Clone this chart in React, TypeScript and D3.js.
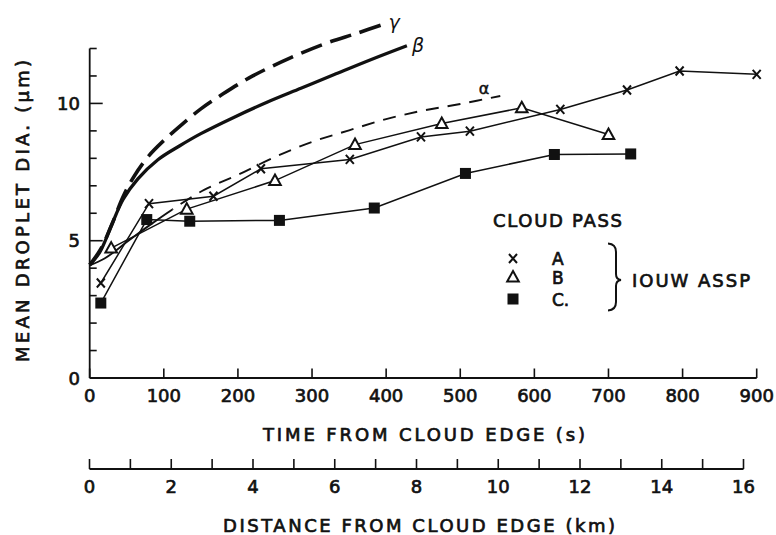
import React from "react";
import * as d3 from "d3";

// Cloud pass A (x markers)
const timeA = [15, 80, 167, 231, 351, 447, 513, 635, 725, 796, 900];
const diaA = [3.46, 6.35, 6.62, 7.62, 7.96, 8.78, 8.99, 9.78, 10.49, 11.18, 11.06];
// Cloud pass B (open triangles)
const timeB = [29, 131, 250, 358, 475, 583, 700];
const diaB = [4.73, 6.15, 7.19, 8.5, 9.27, 9.84, 8.87];
// Cloud pass C (filled squares)
const timeC = [15, 77, 135, 256, 384, 507, 627, 730];
const diaC = [2.73, 5.77, 5.71, 5.74, 6.19, 7.45, 8.14, 8.16];

// Model curves
const timeAlpha = [0, 20, 50, 80, 115, 155, 200, 250, 300, 350, 400, 450, 500, 554];
const diaAlpha = [4.1, 4.35, 4.95, 5.55, 6.2, 6.86, 7.4, 8.05, 8.6, 9.02, 9.43, 9.74, 9.98, 10.27];
const timeBeta = [0, 14, 30, 45, 65, 92, 121, 150, 195, 240, 285, 330, 380, 428];
const diaBeta = [4.12, 4.6, 5.6, 6.5, 7.25, 7.95, 8.45, 8.9, 9.5, 10.05, 10.55, 11.05, 11.6, 12.1];
const timeGamma = [0, 15, 30, 45, 60, 80, 100, 125, 150, 180, 220, 270, 320, 360, 398];
const diaGamma = [4.12, 4.7, 5.6, 6.6, 7.35, 8.1, 8.65, 9.25, 9.8, 10.35, 11.0, 11.65, 12.2, 12.55, 12.9];

const timeTicks = [0, 100, 200, 300, 400, 500, 600, 700, 800, 900];
const diaTicks = d3.range(0, 13, 1);
const diaLabels = [0, 5, 10];
const kmTicks = d3.range(0, 17, 1);
const kmLabels = [0, 2, 4, 6, 8, 10, 12, 14, 16];

const FONT = "'DejaVu Sans', sans-serif";
const INK = "#111";

const x = d3.scaleLinear().domain([0, 900]).range([89.7, 756.7]);
const y = d3.scaleLinear().domain([0, 12]).range([378, 48.5]);
const km = d3.scaleLinear().domain([0, 16]).range([89.5, 743.5]);

const zip = (a: number[], b: number[]) => a.map((v, i) => [v, b[i]] as [number, number]);

const smooth = d3
  .line<[number, number]>()
  .x((d) => x(d[0]))
  .y((d) => y(d[1]))
  .curve(d3.curveCatmullRom.alpha(0.5));
const straight = d3
  .line<[number, number]>()
  .x((d) => x(d[0]))
  .y((d) => y(d[1]));

const XMark = ({ cx, cy }: { cx: number; cy: number }) => (
  <path
    d={`M${cx - 4},${cy - 4.5}L${cx + 4},${cy + 4.5}M${cx + 4},${cy - 4.5}L${cx - 4},${cy + 4.5}`}
    stroke={INK}
    strokeWidth={2}
    fill="none"
  />
);
const TriMark = ({ cx, cy }: { cx: number; cy: number }) => (
  <path
    d={`M${cx},${cy - 6}L${cx + 5.8},${cy + 4.5}L${cx - 5.8},${cy + 4.5}Z`}
    stroke={INK}
    strokeWidth={2}
    fill="#fff"
    strokeLinejoin="miter"
  />
);
const SqMark = ({ cx, cy }: { cx: number; cy: number }) => (
  <rect x={cx - 5.5} y={cy - 5.5} width={11} height={11} fill={INK} />
);

export default function App() {
  const A = zip(timeA, diaA);
  const B = zip(timeB, diaB);
  const C = zip(timeC, diaC);
  const alpha = zip(timeAlpha, diaAlpha);
  const beta = zip(timeBeta, diaBeta);
  const gamma = zip(timeGamma, diaGamma);

  const textProps = {
    fontFamily: FONT,
    fontSize: 18,
    fill: INK,
    stroke: INK,
    strokeWidth: 0.7,
  };

  return (
    <svg
      width={776}
      height={535}
      viewBox="0 0 776 535"
      style={{ position: "absolute", left: 0, top: 0, background: "#fff" }}
    >
      <defs>
        <clipPath id="alphaHead">
          <rect x={0} y={0} width={x(112)} height={535} />
        </clipPath>
        <clipPath id="alphaTail">
          <rect x={x(112)} y={0} width={776} height={535} />
        </clipPath>
      </defs>

      {/* y axis */}
      <line x1={x(0)} x2={x(0)} y1={y(12)} y2={y(0)} stroke={INK} strokeWidth={1.8} />
      {diaTicks.map((t) => (
        <line
          key={"yt" + t}
          x1={x(0)}
          x2={x(0) + (t % 5 === 0 ? 13 : 7)}
          y1={y(t)}
          y2={y(t)}
          stroke={INK}
          strokeWidth={1.6}
        />
      ))}
      {diaLabels.map((t) => (
        <text key={"yl" + t} x={80} y={y(t) + 6.5} textAnchor="end" {...textProps}>
          {t}
        </text>
      ))}

      {/* time axis */}
      <line x1={x(0)} x2={x(900)} y1={y(0)} y2={y(0)} stroke={INK} strokeWidth={1.8} />
      {timeTicks.map((t) => (
        <line key={"xt" + t} x1={x(t)} x2={x(t)} y1={y(0)} y2={y(0) - 9.5} stroke={INK} strokeWidth={1.6} />
      ))}
      {timeTicks.map((t) => (
        <text key={"xl" + t} x={x(t)} y={401.5} textAnchor="middle" {...textProps}>
          {t}
        </text>
      ))}
      <text x={263} y={440.5} textLength={322} lengthAdjust="spacing" {...textProps}>
        TIME FROM CLOUD EDGE (s)
      </text>

      {/* distance axis */}
      <line x1={km(0)} x2={km(16)} y1={469} y2={469} stroke={INK} strokeWidth={1.8} />
      {kmTicks.map((t) => (
        <line key={"kt" + t} x1={km(t)} x2={km(t)} y1={469} y2={459} stroke={INK} strokeWidth={1.6} />
      ))}
      {kmLabels.map((t) => (
        <text key={"kl" + t} x={km(t)} y={493} textAnchor="middle" {...textProps}>
          {t}
        </text>
      ))}
      <text x={223} y={531.5} textLength={392} lengthAdjust="spacing" {...textProps}>
        DISTANCE FROM CLOUD EDGE (km)
      </text>

      {/* y title */}
      <text
        transform="translate(29,362) rotate(-90)"
        x={0}
        y={0}
        textLength={302}
        lengthAdjust="spacing"
        {...textProps}
      >
        MEAN DROPLET DIA. (μm)
      </text>

      {/* model curves */}
      <path d={smooth(gamma) || ""} fill="none" stroke={INK} strokeWidth={3.6} strokeDasharray="22 9" />
      <path d={smooth(beta) || ""} fill="none" stroke={INK} strokeWidth={3.3} />
      <path d={smooth(alpha) || ""} fill="none" stroke={INK} strokeWidth={1.9} clipPath="url(#alphaHead)" />
      <path
        d={smooth(alpha) || ""}
        fill="none"
        stroke={INK}
        strokeWidth={1.9}
        strokeDasharray="13 9"
        clipPath="url(#alphaTail)"
      />
      <text x={394} y={29} textAnchor="middle" fontFamily={FONT} fontStyle="italic" fontSize={19} fill={INK}>
        γ
      </text>
      <text x={418} y={52} textAnchor="middle" fontFamily={FONT} fontStyle="italic" fontSize={19} fill={INK}>
        β
      </text>
      <text x={484} y={94} textAnchor="middle" fontFamily={FONT} fontSize={16} fill={INK} stroke={INK} strokeWidth={0.5}>
        α
      </text>

      {/* cloud pass series */}
      <path d={straight(A) || ""} fill="none" stroke={INK} strokeWidth={1.5} />
      <path d={straight(B) || ""} fill="none" stroke={INK} strokeWidth={1.5} />
      <path d={straight(C) || ""} fill="none" stroke={INK} strokeWidth={1.5} />
      {C.map((d, i) => (
        <SqMark key={"c" + i} cx={x(d[0])} cy={y(d[1])} />
      ))}
      {B.map((d, i) => (
        <TriMark key={"b" + i} cx={x(d[0])} cy={y(d[1])} />
      ))}
      {A.map((d, i) => (
        <XMark key={"a" + i} cx={x(d[0])} cy={y(d[1])} />
      ))}

      {/* legend */}
      <text x={493} y={227} textLength={129} lengthAdjust="spacing" {...textProps}>
        CLOUD PASS
      </text>
      <XMark cx={513} cy={258.5} />
      <TriMark cx={513} cy={277} />
      <SqMark cx={513} cy={299} />
      <text x={552} y={265} {...textProps} fontSize={17}>
        A
      </text>
      <text x={552} y={283.5} {...textProps} fontSize={17}>
        B
      </text>
      <text x={552} y={306} {...textProps} fontSize={17}>
        C.
      </text>
      <path
        d="M608,243.5 Q616,244 616,252 L616,274 Q616,279.5 621,280 Q616,280.5 616,286 L616,302 Q616,310 608,310.5"
        fill="none"
        stroke={INK}
        strokeWidth={2}
      />
      <text x={632} y={286.5} textLength={118} lengthAdjust="spacing" {...textProps}>
        IOUW ASSP
      </text>
    </svg>
  );
}
